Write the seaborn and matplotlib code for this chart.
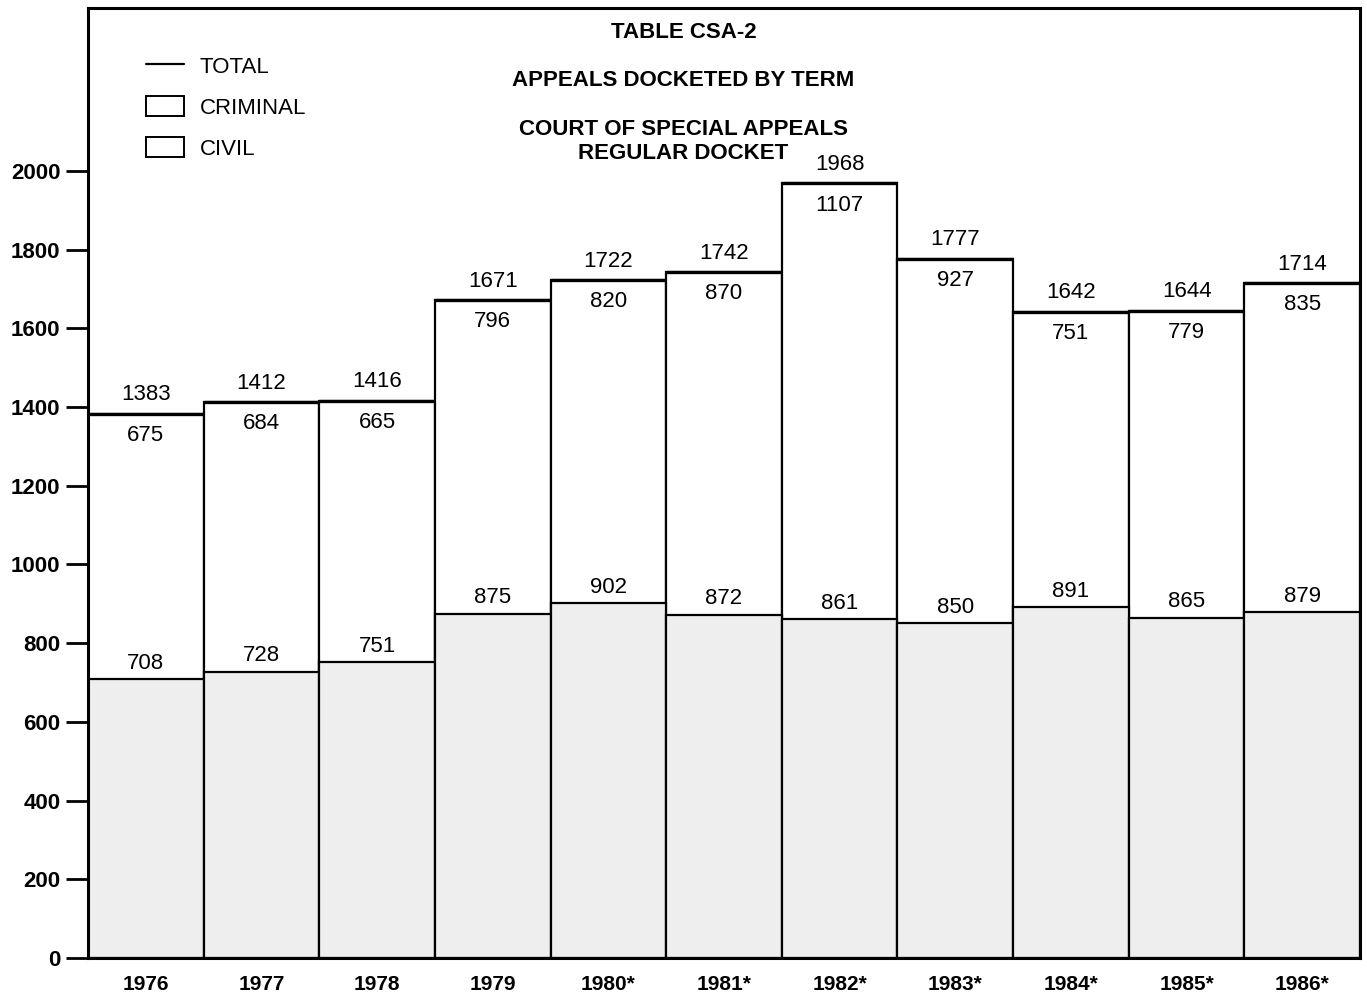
import numpy as np
import matplotlib.pyplot as plt
from matplotlib.lines import Line2D
from matplotlib.patches import Patch
import pandas as pd
import seaborn as sns

# =========================
# DATA
# =========================
years = ['1976', '1977', '1978', '1979', '1980*', '1981*',
         '1982*', '1983*', '1984*', '1985*', '1986*']
civil = [708, 728, 751, 875, 902, 872, 861, 850, 891, 865, 879]
criminal = [675, 684, 665, 796, 820, 870, 1107, 927, 751, 779, 835]
total = [1383, 1412, 1416, 1671, 1722, 1742, 1968, 1777, 1642, 1644, 1714]

df = pd.DataFrame({'year': years, 'civil': civil,
                   'criminal': criminal, 'total': total})

# =========================
# PLOTTING SETUP
# =========================
sns.set_theme('paper')
sns.set_style('ticks')
plt.rcParams['font.family'] = ['Liberation Sans', 'DejaVu Sans']
plt.rcParams['text.color'] = 'black'
plt.rcParams['xtick.color'] = 'black'
plt.rcParams['ytick.color'] = 'black'

fig = plt.figure(figsize=(13.67, 9.94), dpi=100)
ax = fig.add_axes([0.0644, 0.0362, 0.9305, 0.9558])

# white (criminal) part = full stack, civil drawn over it
sns.barplot(data=df, x='year', y='total', color='white',
            edgecolor='black', linewidth=1.6, width=1.0,
            saturation=1, ax=ax)
sns.barplot(data=df, x='year', y='civil', color='#eeeeee',
            edgecolor='black', linewidth=1.6, width=1.0,
            saturation=1, ax=ax)

# total line on top of each bar
xs = np.arange(len(years))
ax.hlines(df['total'], xs - 0.5, xs + 0.5, color='black', linewidth=2.4, zorder=5)

# =========================
# LABELS
# =========================
for i, row in df.iterrows():
    ax.text(i, row['total'] + 22, f"{row['total']}", ha='center', va='bottom', fontsize=16)
    ax.text(i, row['total'] - 28, f"{row['criminal']}", ha='center', va='top', fontsize=16)
    ax.text(i, row['civil'] + 14, f"{row['civil']}", ha='center', va='bottom', fontsize=16)

title_kw = dict(transform=ax.transAxes, ha='center', va='center',
                fontsize=16, fontweight='bold')
ax.text(0.468, 1 - (33 - 8) / 950, 'TABLE CSA-2', **title_kw)
ax.text(0.468, 1 - (81 - 8) / 950, 'APPEALS DOCKETED BY TERM', **title_kw)
ax.text(0.468, 1 - (130 - 8) / 950, 'COURT OF SPECIAL APPEALS', **title_kw)
ax.text(0.468, 1 - (154 - 8) / 950, 'REGULAR DOCKET', **title_kw)

# =========================
# LEGEND
# =========================
handles = [
    Line2D([0], [0], color='black', linewidth=1.6),
    Patch(facecolor='white', edgecolor='black', linewidth=1.4),
    Patch(facecolor='white', edgecolor='black', linewidth=1.4),
]
ax.legend(handles, ['TOTAL', 'CRIMINAL', 'CIVIL'], loc='upper left',
          bbox_to_anchor=(0.030, 0.971), frameon=False, fontsize=16,
          handlelength=1.7, handleheight=1.0, labelspacing=0.82, handletextpad=0.7)

# =========================
# FORMATTING
# =========================
ax.set_xlim(-0.5, len(years) - 0.5)
ax.set_ylim(0, 2414)
ax.set_yticks(range(0, 2001, 200))
ax.set_xlabel('')
ax.set_ylabel('')
ax.tick_params(axis='y', length=16, width=2, labelsize=16, pad=4)
ax.tick_params(axis='x', length=0, labelsize=15, pad=12)
for lab in ax.get_xticklabels() + ax.get_yticklabels():
    lab.set_fontweight('bold')
for s in ax.spines.values():
    s.set_linewidth(2.2)
    s.set_color('black')

fig.savefig('out.png', dpi=100)
